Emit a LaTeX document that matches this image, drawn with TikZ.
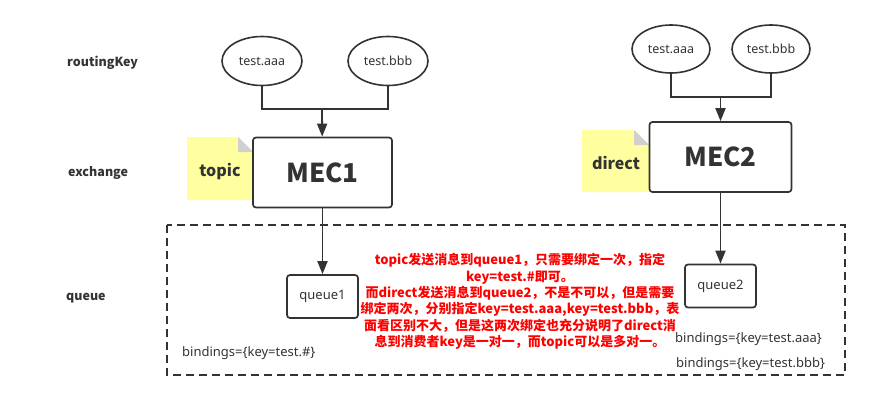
\documentclass[tikz,border=0pt]{standalone}
\usepackage{fontspec}
\setmainfont{Noto Sans CJK SC}
\newfontfamily\latinf{Noto Sans}
\usetikzlibrary{shapes.geometric,arrows.meta}
\definecolor{dk}{HTML}{333333}
\definecolor{notey}{HTML}{FFFFA0}
\definecolor{foldg}{HTML}{D0D0D0}
\definecolor{rd}{HTML}{FF0000}
\begin{document}
\begin{tikzpicture}[x=1pt,y=-1pt,
  rkey/.style={ellipse,draw=dk,line width=1.6pt,minimum width=80pt,minimum height=49pt,inner sep=0pt,text=dk,font=\latinf\fontsize{12.5}{14}\selectfont},
  exbox/.style={draw=dk,line width=1.7pt,rounded corners=3pt,fill=white,minimum width=139pt,minimum height=70pt,inner sep=0pt,text=dk,font=\bfseries\fontsize{26}{30}\selectfont},
  qbox/.style={draw=dk,line width=1.7pt,rounded corners=3pt,fill=white,minimum width=71pt,minimum height=43pt,inner sep=0pt,text=dk,font=\latinf\fontsize{13}{15}\selectfont},
  lvl/.style={anchor=west,inner sep=0pt,text=dk,font=\bfseries\fontsize{12.5}{14}\selectfont},
  notetxt/.style={inner sep=0pt,text=dk,font=\bfseries\fontsize{16}{18}\selectfont},
  bind/.style={anchor=west,inner sep=0pt,text=dk,font=\latinf\fontsize{13}{15}\selectfont},
  conn/.style={draw=dk,line width=1.8pt},
  arr/.style={conn,-{Triangle[length=13pt,width=10pt]}},
  dashbox/.style={draw=dk,line width=1.8pt,dash pattern=on 8pt off 5pt},
  redtxt/.style={align=center,inner sep=0pt,text=rd,font=\bfseries\fontsize{13}{16.3}\selectfont}
]
\useasboundingbox (0,0) rectangle (870,404);

% level labels
\node[lvl] (lrk) at (67,63) {routingKey};
\node[lvl] (lex) at (68,173) {exchange};
\node[lvl] (lq) at (66,298) {queue};

% dashed queue area
\draw[dashbox] (167,225) rectangle (845,375);

% left group
\node[rkey] (a1) at (262,61) {test.aaa};
\node[rkey] (b1) at (388,61) {test.bbb};
\coordinate (j1) at (322,109);
\fill[notey] (187,137) -- (238,137) -- (253,152) -- (253,200) -- (187,200) -- cycle;
\fill[foldg] (238,137) -- (238,152) -- (253,152) -- cycle;
\node[notetxt] (tp) at (220,172) {topic};
\node[exbox] (m1) at (322.5,172.5) {MEC1};
\node[qbox] (q1) at (322.5,296.5) {queue1};
\draw[conn] (a1) |- (j1);
\draw[conn] (b1) |- (j1);
\draw[arr] (j1) -- (m1);
\draw[arr] (m1) -- (q1);

% right group
\node[rkey,minimum height=48pt,minimum width=78pt] (a2) at (671,49) {test.aaa};
\node[rkey,minimum height=48pt,minimum width=78pt] (b2) at (771,49) {test.bbb};
\coordinate (j2) at (720.5,97);
\fill[notey] (582,130) -- (634,130) -- (649,145) -- (649,192) -- (582,192) -- cycle;
\fill[foldg] (634,130) -- (634,145) -- (649,145) -- cycle;
\node[notetxt] (dr) at (616,163) {direct};
\node[exbox,minimum width=142pt] (m2) at (720.5,157) {MEC2};
\node[qbox] (q2) at (720.5,286) {queue2};
\draw[conn] (a2) |- (j2);
\draw[conn] (b2) |- (j2);
\draw[arr] (j2) -- (m2);
\draw[arr] (m2) -- (q2);

% bindings
\node[bind] (bd1) at (182,353) {bindings=\{key=test.\#\}};
\node[bind] (bd2) at (675,339) {bindings=\{key=test.aaa\}};
\node[bind] (bd3) at (676,364) {bindings=\{key=test.bbb\}};

% explanation
\node[redtxt] (expl) at (520,301.5) {topic发送消息到queue1，只需要绑定一次，指定\\
key=test.\#即可。\\
而direct发送消息到queue2，不是不可以，但是需要\\
绑定两次，分别指定key=test.aaa,key=test.bbb，表\\
面看区别不大，但是这两次绑定也充分说明了direct消\\
息到消费者key是一对一，而topic可以是多对一。};
\end{tikzpicture}
\end{document}
